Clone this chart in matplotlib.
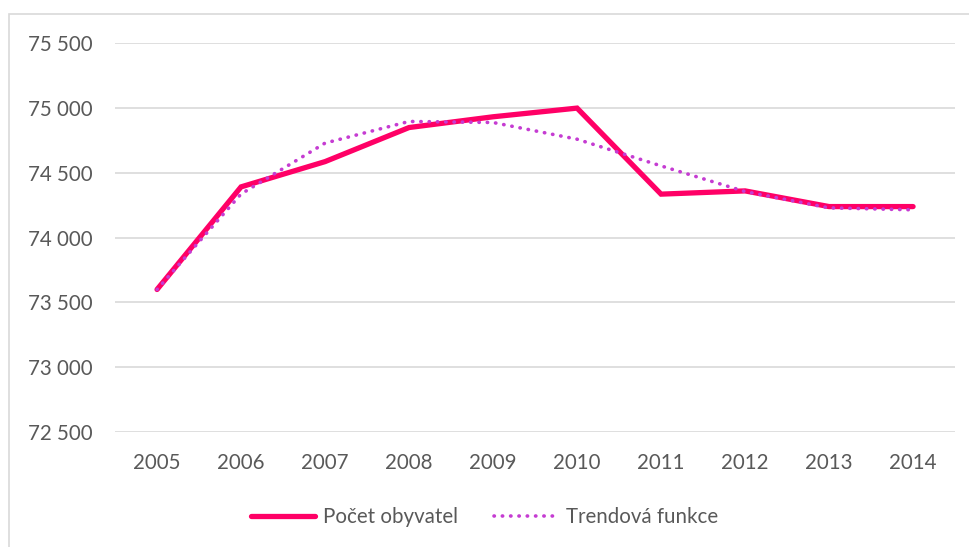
import matplotlib
matplotlib.use('Agg')
import matplotlib.pyplot as plt
from matplotlib.patches import Rectangle
from matplotlib.ticker import FuncFormatter, MultipleLocator

years = ['2005', '2006', '2007', '2008', '2009', '2010', '2011', '2012', '2013', '2014']
obyvatel = [73600, 74392, 74587, 74850, 74933, 75000, 74336, 74361, 74240, 74240]
trend = [73600, 74337, 74730, 74897, 74889, 74760, 74554, 74356, 74230, 74215]

plt.rcParams['font.family'] = ['Lato', 'DejaVu Sans']
txt = '#595959'
fs = 14.8

fig = plt.figure(figsize=(9.7, 5.47), dpi=100)
ax = fig.add_axes([0.1186, 0.2102, 0.866, 0.7106])

x = range(len(years))
ax.plot(x, obyvatel, color='#FF0066', lw=3.8, solid_capstyle='round',
        solid_joinstyle='miter', label='Počet obyvatel', zorder=3)
ax.plot(x, trend, color='#C53CD2', lw=2.6, linestyle=(0, (0.1, 2.2)),
        dash_capstyle='round', label='Trendová funkce', zorder=4)

ax.set_xlim(-0.5, len(years) - 0.5)
ax.set_ylim(72500, 75500)
ax.yaxis.set_major_locator(MultipleLocator(500))
ax.yaxis.set_major_formatter(FuncFormatter(lambda v, p: '{:,.0f}'.format(v).replace(',', ' ')))
ax.set_xticks(list(x))
ax.set_xticklabels(years)
ax.grid(axis='y', color='#D9D9D9', lw=1.2)
ax.set_axisbelow(True)
for s in ax.spines.values():
    s.set_visible(False)
ax.tick_params(axis='both', length=0, labelsize=fs, colors=txt)
ax.tick_params(axis='y', pad=16)
ax.tick_params(axis='x', pad=15)

leg = fig.legend(loc='center', bbox_to_anchor=(0.4995, 0.055), ncol=2, frameon=False,
                 fontsize=fs, handlelength=3.1, handletextpad=0.4, columnspacing=1.75)
for t in leg.get_texts():
    t.set_color(txt)

fig.patches.append(Rectangle((9 / 970, -0.1), 1.2, 1.1 - 14 / 547, transform=fig.transFigure,
                             fill=False, edgecolor='#D9D9D9', lw=1.2))

fig.savefig('out.png', dpi=100)
